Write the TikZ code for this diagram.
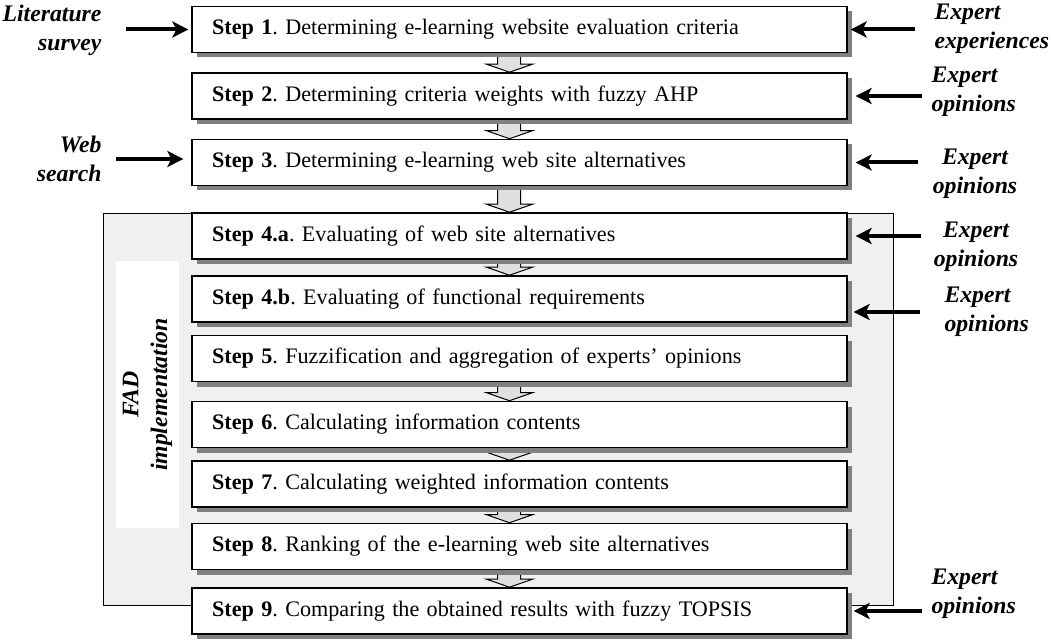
\documentclass[tikz,border=0pt]{standalone}
\usepackage{fontspec}
\setmainfont{Liberation Serif}
\usetikzlibrary{arrows.meta,shadows,calc,backgrounds}

\tikzset{every picture/.style={line width=0.75pt}}
\tikzset{
	stepbox/.style={draw, line width=1.2pt, fill=white, minimum width=491pt, minimum height=34.5pt,
		text width=461pt, inner xsep=15pt, align=left, font=\fontsize{16.6}{21}\selectfont,
		drop shadow={shadow xshift=3.75pt, shadow yshift=-3.75pt, fill=black!50, opacity=1}},
	source/.style={inner sep=0.75pt, font=\fontsize{17.8}{21.5}\selectfont\bfseries\itshape},
	feed/.style={line width=3pt, -{Stealth[length=12pt,width=12pt,inset=3pt]}},
	flowarrow/.style={draw, line width=0.75pt, fill=black!12}
}

\begin{document}
\frenchspacing
\begin{tikzpicture}[x=0.75pt,y=0.75pt,yscale=-1,xscale=1]
	\useasboundingbox (0,0) rectangle (1051,642);

	% Steps
	\node[stepbox] (s1) at (519.5,29.5) {\textbf{Step 1}. Determining e-learning website evaluation criteria};
	\node[stepbox] (s2) at (519.5,96) {\textbf{Step 2}. Determining criteria weights with fuzzy AHP};
	\node[stepbox] (s3) at (519.5,162.5) {\textbf{Step 3}. Determining e-learning web site alternatives};
	\node[stepbox] (s4a) at (519.5,236) {\textbf{Step 4.a}. Evaluating of web site alternatives};
	\node[stepbox] (s4b) at (519.5,299) {\textbf{Step 4.b}. Evaluating of functional requirements};
	\node[stepbox] (s5) at (519.5,358.5) {\textbf{Step 5}. Fuzzification and aggregation of experts’ opinions};
	\node[stepbox] (s6) at (519.5,424.5) {\textbf{Step 6}. Calculating information contents};
	\node[stepbox] (s7) at (519.5,484) {\textbf{Step 7}. Calculating weighted information contents};
	\node[stepbox] (s8) at (519.5,546.5) {\textbf{Step 8}. Ranking of the e-learning web site alternatives};
	\node[stepbox] (s9) at (519.5,611) {\textbf{Step 9}. Comparing the obtained results with fuzzy TOPSIS};

	% FAD panel
	\node[source, fill=white, rotate=90, align=center, minimum width=200pt, minimum height=47pt] (fad) at (147.5,394.5) {FAD\\implementation};

	% Inputs
	\node[source, anchor=east, align=right] (lit) at (103,30) {Literature\\survey};
	\node[source, anchor=east, align=right] (web) at (103,159) {Web\\search};
	\node[source, anchor=west, align=left] (e1) at (933,29) {Expert\\experiences};
	\node[source, anchor=west, align=left] (e2) at (930,92) {Expert\\opinions};
	\node[source, align=center] (e3) at (975,174) {Expert\\opinions};
	\node[source, align=center] (e4) at (976,247) {Expert\\opinions};
	\node[source, anchor=west, align=left] (e5) at (943,312) {Expert\\opinions};
	\node[source, anchor=west, align=left] (e6) at (930,594) {Expert\\opinions};

	\draw[feed] ($(lit.east |- s1.west)+(23,0)$) -- ($(s1.west)+(-3,0)$);
	\draw[feed] ($(web.east)+(13,0)$) -- ($(s3.west |- web.east)+(-8,0)$);
	\draw[feed] ($(s1.east -| e1.west)+(-18,0)$) -- ($(s1.east)+(3,0)$);
	\draw[feed] ($(s2.east -| e2.west)+(-8,0)$) -- ($(s2.east)+(8,0)$);
	\draw[feed] ($(s3.east -| e3.west)+(-13,0)$) -- ($(s3.east)+(8,0)$);
	\draw[feed] ($(s4a.east -| e4.west)+(-11,0)$) -- ($(s4a.east)+(8,0)$);
	\draw[feed] ($(e5.west)+(-23,0)$) -- ($(s4b.east |- e5.west)+(6,0)$);
	\draw[feed] ($(s9.east -| e6.west)+(-8,0)$) -- ($(s9.east)+(6,0)$);

	\begin{scope}[on background layer]
		% FAD region
		\draw[fill=black!6] (103,213) rectangle (893,605);
		% flow between steps
		\foreach \a/\b in {s1/s2,s2/s3,s3/s4a,s4a/s4b,s5/s6,s6/s7,s7/s8,s8/s9}
		\draw[flowarrow] ($(\a.south)+(-22,0)$) -- ($(\a.south)+(1,0)$) -- ($(\b.north)+(1,-8)$)
			-- ($(\b.north)+(13,-8)$) -- ($(\b.north)+(-10,0)$) -- ($(\b.north)+(-33,-8)$)
			-- ($(\b.north)+(-22,-8)$) -- cycle;
	\end{scope}

\end{tikzpicture}
\end{document}
